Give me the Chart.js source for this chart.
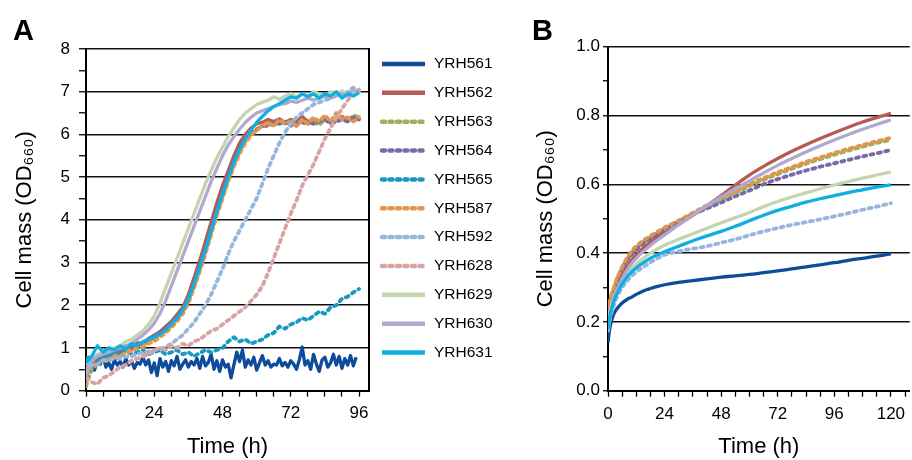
<!DOCTYPE html>
<html>
<head>
<meta charset="utf-8">
<script src="https://cdn.jsdelivr.net/npm/chart.js@4.4.1/dist/chart.umd.min.js"></script>
<style>
    body { margin: 0; background: #fff; }
    #wrap { position: relative; width: 912px; height: 460px; overflow: hidden; }
    canvas { position: absolute; top: 0; }
</style>
</head>
<body>
<div id="wrap">
    <canvas id="chartA" width="520" height="460" style="left:0"></canvas>
    <canvas id="chartB" width="392" height="460" style="left:520px"></canvas>
</div>
<script>
const FONT = "'Liberation Sans', Arial, Helvetica, sans-serif";
Chart.defaults.font.family = FONT;
Chart.defaults.color = '#000';

// strains and their styles
const strainsA = ['YRH561', 'YRH562', 'YRH563', 'YRH564', 'YRH565', 'YRH587', 'YRH592', 'YRH628', 'YRH629', 'YRH630', 'YRH631'];
const strainsB = ['YRH561', 'YRH562', 'YRH563', 'YRH564', 'YRH587', 'YRH592', 'YRH629', 'YRH630', 'YRH631'];
const strainColors = {
    YRH561: '#0e4c9a', YRH562: '#b65b53', YRH563: '#9ab15e', YRH564: '#7b68a6',
    YRH565: '#1799c4', YRH587: '#e3954c', YRH592: '#97b6de', YRH628: '#d8a4a3',
    YRH629: '#c3d4ae', YRH630: '#afa8cf', YRH631: '#10afe2'
};
const dashedStrains = ['YRH563', 'YRH564', 'YRH565', 'YRH587', 'YRH592', 'YRH628'];

// panel A: time (h) and OD660 (YRH561 read every hour, the rest every 2 h)
const time561A = [0, 1, 2, 3, 4, 5, 6, 7, 8, 9, 10, 11, 12, 13, 14, 15, 16, 17, 18, 19, 20, 21, 22, 23, 24,
    25, 26, 27, 28, 29, 30, 31, 32, 33, 34, 35, 36, 37, 38, 39, 40, 41, 42, 43, 44, 45, 46, 47, 48,
    49, 50, 51, 52, 53, 54, 55, 56, 57, 58, 59, 60, 61, 62, 63, 64, 65, 66, 67, 68, 69, 70, 71, 72,
    73, 74, 75, 76, 77, 78, 79, 80, 81, 82, 83, 84, 85, 86, 87, 88, 89, 90, 91, 92, 93, 94, 95];
const timeA = [0, 2, 4, 6, 8, 10, 12, 14, 16, 18, 20, 22, 24, 26, 28, 30, 32, 34, 36, 38, 40, 42, 44, 46, 48,
    50, 52, 54, 56, 58, 60, 62, 64, 66, 68, 70, 72, 74, 76, 78, 80, 82, 84, 86, 88, 90, 92, 94, 96];
const yrh561A = [0.55, 0.72, 0.6, 0.48, 0.7, 0.62, 0.8, 0.55, 0.65, 0.5, 0.72, 0.6, 0.68, 0.55, 0.75, 0.6, 0.7, 0.52,
    0.66, 0.62, 0.78, 0.6, 0.72, 0.42, 0.65, 0.35, 0.75, 0.55, 0.68, 0.45, 0.7, 0.58, 0.8, 0.5, 0.62, 0.72,
    0.55, 0.68, 0.6, 0.75, 0.52, 0.8, 0.58, 0.66, 0.85, 0.5, 0.7, 0.45, 0.72, 0.55, 0.62, 0.3, 0.6, 0.9,
    0.68, 0.95, 0.55, 0.72, 0.6, 0.78, 0.48, 0.65, 0.82, 0.6, 0.7, 0.55, 0.62, 0.6, 0.75, 0.58, 0.66, 0.55,
    0.7, 0.62, 0.5, 0.72, 1.02, 0.6, 0.7, 0.5, 0.85, 0.62, 0.45, 0.72, 0.78, 0.55, 0.65, 0.85, 0.6, 0.8,
    0.52, 0.75, 0.6, 0.82, 0.58, 0.78];
const yrh562A = [0.45, 0.75, 0.7, 0.9, 0.85, 1.0, 0.95, 1.05, 1.0, 1.12, 1.1, 1.22, 1.3, 1.38, 1.5, 1.62, 1.78, 1.95, 2.25, 2.65,
    3.05, 3.5, 3.95, 4.4, 4.8, 5.15, 5.5, 5.8, 6.0, 6.15, 6.25, 6.28, 6.35, 6.3, 6.36, 6.28, 6.35, 6.3, 6.42, 6.3,
    6.36, 6.28, 6.4, 6.3, 6.35, 6.42, 6.33, 6.4, 6.35];
const yrh563A = [0.1, 0.5, 0.62, 0.78, 0.75, 0.88, 0.85, 0.98, 0.95, 1.05, 1.08, 1.15, 1.25, 1.32, 1.42, 1.55, 1.7, 1.85, 2.1, 2.45,
    2.85, 3.25, 3.7, 4.15, 4.55, 4.95, 5.3, 5.6, 5.85, 6.0, 6.1, 6.2, 6.25, 6.2, 6.3, 6.25, 6.3, 6.2, 6.32, 6.25,
    6.3, 6.22, 6.35, 6.25, 6.3, 6.42, 6.3, 6.45, 6.4];
const yrh564A = [0.3, 0.6, 0.68, 0.8, 0.82, 0.92, 0.9, 1.0, 1.0, 1.08, 1.12, 1.2, 1.28, 1.36, 1.45, 1.58, 1.72, 1.88, 2.12, 2.48,
    2.9, 3.3, 3.75, 4.2, 4.6, 5.0, 5.35, 5.65, 5.88, 6.02, 6.12, 6.2, 6.2, 6.28, 6.25, 6.3, 6.2, 6.3, 6.25, 6.3,
    6.25, 6.3, 6.35, 6.25, 6.3, 6.35, 6.3, 6.4, 6.35];
const yrh565A = [0.75, 0.8, 0.7, 0.85, 0.8, 0.9, 0.85, 0.95, 0.85, 0.9, 0.95, 0.85, 0.9, 0.95, 0.85, 0.9, 0.95, 0.85, 0.9, 0.8,
    0.88, 0.95, 0.9, 0.95, 1.0, 1.15, 1.25, 1.15, 1.2, 1.1, 1.15, 1.2, 1.3, 1.35, 1.5, 1.45, 1.55, 1.6, 1.7, 1.65,
    1.75, 1.85, 1.8, 1.95, 2.0, 2.15, 2.2, 2.3, 2.38];
const yrh587A = [0.35, 0.6, 0.62, 0.72, 0.72, 0.82, 0.8, 0.9, 0.92, 1.0, 1.02, 1.1, 1.16, 1.25, 1.35, 1.48, 1.62, 1.8, 2.05, 2.4,
    2.8, 3.2, 3.65, 4.1, 4.5, 4.9, 5.25, 5.55, 5.8, 5.98, 6.1, 6.2, 6.28, 6.2, 6.35, 6.25, 6.3, 6.2, 6.35, 6.25,
    6.4, 6.3, 6.45, 6.3, 6.5, 6.35, 6.4, 6.3, 6.4];
const yrh592A = [0.4, 0.6, 0.62, 0.7, 0.7, 0.76, 0.75, 0.8, 0.8, 0.86, 0.88, 0.92, 0.95, 0.98, 1.02, 1.1, 1.2, 1.3, 1.45, 1.6,
    1.8, 2.0, 2.25, 2.55, 2.85, 3.2, 3.5, 3.75, 4.0, 4.25, 4.5, 4.85, 5.2, 5.5, 5.8, 6.05, 6.25, 6.4, 6.5, 6.6,
    6.7, 6.75, 6.8, 6.85, 6.95, 6.9, 7.0, 7.1, 7.0];
const yrh628A = [0.3, 0.2, 0.15, 0.3, 0.35, 0.45, 0.55, 0.6, 0.7, 0.75, 0.8, 0.85, 0.95, 1.0, 0.95, 1.05, 1.0, 1.1, 1.05, 1.15,
    1.2, 1.3, 1.4, 1.45, 1.55, 1.65, 1.75, 1.85, 1.95, 2.1, 2.25, 2.45, 2.75, 3.1, 3.45, 3.8, 4.15, 4.45, 4.8, 5.05,
    5.3, 5.6, 5.9, 6.15, 6.4, 6.6, 6.8, 6.95, 7.05];
const yrh629A = [0.6, 0.75, 0.85, 0.9, 0.95, 1.0, 1.05, 1.15, 1.2, 1.3, 1.4, 1.55, 1.75, 2.05, 2.4, 2.75, 3.1, 3.45, 3.8, 4.15,
    4.5, 4.85, 5.15, 5.45, 5.7, 5.95, 6.15, 6.35, 6.5, 6.6, 6.7, 6.75, 6.8, 6.88, 6.82, 6.9, 6.95, 6.88, 6.95, 6.9,
    7.0, 6.95, 6.9, 7.0, 6.95, 7.02, 6.9, 7.0, 6.95];
const yrh630A = [0.5, 0.7, 0.8, 0.85, 0.9, 0.95, 1.0, 1.05, 1.1, 1.2, 1.3, 1.42, 1.58, 1.8, 2.1, 2.45, 2.8, 3.15, 3.5, 3.85,
    4.2, 4.55, 4.9, 5.2, 5.5, 5.75, 5.95, 6.12, 6.28, 6.4, 6.5, 6.55, 6.6, 6.65, 6.7, 6.72, 6.78, 6.75, 6.8, 6.85,
    6.8, 6.85, 6.9, 6.85, 6.9, 6.95, 6.9, 7.05, 7.0];
const yrh631A = [0.65, 0.8, 1.05, 0.9, 1.0, 0.95, 1.05, 0.98, 1.1, 1.05, 1.15, 1.2, 1.25, 1.32, 1.42, 1.55, 1.7, 1.88, 2.15, 2.5,
    2.9, 3.3, 3.75, 4.2, 4.6, 5.0, 5.35, 5.65, 5.9, 6.1, 6.28, 6.42, 6.55, 6.65, 6.72, 6.8, 6.88, 6.85, 6.95, 6.88,
    6.95, 6.85, 6.95, 6.9, 7.0, 6.85, 6.95, 6.9, 6.98];
const valuesA = [yrh561A, yrh562A, yrh563A, yrh564A, yrh565A, yrh587A, yrh592A, yrh628A, yrh629A, yrh630A, yrh631A];
const timesA = [time561A, timeA, timeA, timeA, timeA, timeA, timeA, timeA, timeA, timeA, timeA];

// panel B: time (h) and OD660
const timeB = [0, 0.5, 1, 2, 3, 4, 6, 8, 10, 12, 15, 18, 21, 24, 30, 36, 42, 48, 54, 60, 66, 72, 78, 84, 90, 96, 102, 108, 114, 120];
const yrh561B = [0.14, 0.17, 0.19, 0.215, 0.23, 0.24, 0.255, 0.265, 0.272, 0.28, 0.29, 0.297, 0.303, 0.308, 0.315,
    0.32, 0.325, 0.33, 0.334, 0.338, 0.343, 0.348, 0.354, 0.36, 0.366, 0.372, 0.379, 0.385, 0.391, 0.398];
const yrh562B = [0.19, 0.215, 0.235, 0.265, 0.29, 0.31, 0.34, 0.362, 0.38, 0.395, 0.415, 0.432, 0.448, 0.462, 0.485,
    0.51, 0.538, 0.567, 0.598, 0.627, 0.652, 0.675, 0.696, 0.715, 0.733, 0.75, 0.766, 0.781, 0.794, 0.806];
const yrh563B = [0.2, 0.235, 0.26, 0.285, 0.305, 0.325, 0.355, 0.38, 0.4, 0.415, 0.432, 0.446, 0.458, 0.47, 0.49,
    0.512, 0.534, 0.555, 0.575, 0.595, 0.613, 0.63, 0.645, 0.66, 0.673, 0.686, 0.698, 0.709, 0.72, 0.729];
const yrh564B = [0.19, 0.22, 0.245, 0.28, 0.305, 0.325, 0.355, 0.378, 0.395, 0.41, 0.428, 0.443, 0.457, 0.47, 0.492,
    0.512, 0.53, 0.547, 0.565, 0.582, 0.6, 0.615, 0.628, 0.64, 0.651, 0.661, 0.671, 0.681, 0.69, 0.70];
const yrh587B = [0.21, 0.245, 0.27, 0.29, 0.31, 0.33, 0.36, 0.385, 0.405, 0.42, 0.437, 0.45, 0.462, 0.474, 0.495,
    0.517, 0.539, 0.56, 0.58, 0.6, 0.618, 0.635, 0.65, 0.665, 0.678, 0.691, 0.703, 0.714, 0.725, 0.735];
const yrh592B = [0.18, 0.2, 0.215, 0.24, 0.26, 0.275, 0.3, 0.318, 0.333, 0.345, 0.36, 0.373, 0.385, 0.395, 0.405,
    0.413, 0.42, 0.43, 0.44, 0.452, 0.463, 0.473, 0.482, 0.49, 0.498, 0.507, 0.516, 0.526, 0.535, 0.545];
const yrh629B = [0.19, 0.215, 0.235, 0.26, 0.28, 0.295, 0.32, 0.34, 0.355, 0.368, 0.385, 0.4, 0.412, 0.423, 0.44,
    0.456, 0.472, 0.488, 0.503, 0.518, 0.535, 0.55, 0.563, 0.575, 0.587, 0.598, 0.608, 0.618, 0.627, 0.636];
const yrh630B = [0.17, 0.195, 0.215, 0.25, 0.275, 0.295, 0.325, 0.35, 0.37, 0.385, 0.405, 0.422, 0.438, 0.453, 0.482,
    0.51, 0.537, 0.563, 0.587, 0.61, 0.633, 0.655, 0.675, 0.694, 0.712, 0.729, 0.745, 0.76, 0.774, 0.787];
const yrh631B = [0.18, 0.205, 0.225, 0.25, 0.27, 0.285, 0.31, 0.33, 0.345, 0.357, 0.372, 0.385, 0.395, 0.404, 0.42,
    0.436, 0.45, 0.463, 0.478, 0.494, 0.51, 0.524, 0.536, 0.548, 0.558, 0.567, 0.576, 0.584, 0.592, 0.598];
const valuesB = [yrh561B, yrh562B, yrh563B, yrh564B, yrh587B, yrh592B, yrh629B, yrh630B, yrh631B];
const timesB = valuesB.map(() => timeB);

// ticks
const xTicksA = [0, 6, 12, 18, 24, 30, 36, 42, 48, 54, 60, 66, 72, 78, 84, 90, 96];
const xLabelsA = [0, 24, 48, 72, 96];
const yTicksA = [0, 0.5, 1, 1.5, 2, 2.5, 3, 3.5, 4, 4.5, 5, 5.5, 6, 6.5, 7, 7.5, 8];
const yLabelsA = [0, 1, 2, 3, 4, 5, 6, 7, 8];
const xTicksB = [0, 6, 12, 18, 24, 30, 36, 42, 48, 54, 60, 66, 72, 78, 84, 90, 96, 102, 108, 114, 120, 126];
const xLabelsB = [0, 24, 48, 72, 96, 120];
const yTicksB = [0, 0.1, 0.2, 0.3, 0.4, 0.5, 0.6, 0.7, 0.8, 0.9, 1.0];
const yLabelsB = ['0.0', '', '0.2', '', '0.4', '', '0.6', '', '0.8', '', '1.0'];

// panel letter + line legend drawn on top of the chart
const panelExtras = {
    id: 'panelExtras',
    afterDraw(chart, args, opts) {
        const ctx = chart.ctx;
        ctx.save();
        ctx.fillStyle = '#000';
        ctx.font = 'bold 29px ' + FONT;
        ctx.textBaseline = 'alphabetic';
        ctx.textAlign = 'left';
        ctx.fillText(opts.letter, opts.letterX, opts.letterY);
        if (opts.legend) {
            const lg = opts.legend;
            ctx.font = lg.fontSize + 'px ' + FONT;
            ctx.textBaseline = 'middle';
            chart.data.datasets.forEach((ds, i) => {
                const y = lg.y + i * lg.step;
                ctx.beginPath();
                ctx.strokeStyle = ds.borderColor;
                ctx.lineWidth = lg.lineWidth;
                ctx.lineCap = ds.borderCapStyle;
                ctx.setLineDash(ds.borderDash);
                ctx.moveTo(lg.x + 2, y);
                ctx.lineTo(lg.x + lg.len - 2, y);
                ctx.stroke();
                ctx.setLineDash([]);
                ctx.fillText(ds.label, lg.x + lg.len + 7, y);
            });
        }
        ctx.restore();
    }
};

function makeDatasets(names, times, values, lineWidth, smooth) {
    return names.map((name, i) => {
        const dashed = dashedStrains.includes(name);
        return {
            label: name,
            data: times[i].map((t, j) => ({ x: t, y: values[i][j] })),
            borderColor: strainColors[name],
            borderWidth: dashed ? lineWidth + 0.5 : lineWidth,
            borderDash: dashed ? [3, 4.5] : [],
            borderCapStyle: dashed ? 'round' : 'butt',
            borderJoinStyle: 'round',
            pointRadius: 0,
            cubicInterpolationMode: smooth ? 'monotone' : 'default',
            tension: 0,
            order: -i
        };
    });
}

function axisTitle(text, padding) {
    return { display: true, text: text, font: { size: 22 }, padding: padding };
}

function createPanelA() {
    const ctx = document.getElementById('chartA').getContext('2d');
    new Chart(ctx, {
        type: 'line',
        data: { datasets: makeDatasets(strainsA, timesA, valuesA, 3.3, false) },
        options: {
            responsive: false,
            animation: false,
            layout: { padding: { top: 49, right: 151, bottom: 0, left: 0 } },
            plugins: {
                legend: { display: false },
                tooltip: { enabled: false },
                panelExtras: {
                    letter: 'A', letterX: 13, letterY: 40,
                    legend: { x: 380, len: 47, y: 64, step: 28.85, fontSize: 15.5, lineWidth: 4.5 }
                }
            },
            scales: {
                x: {
                    type: 'linear', min: 0, max: 99.5,
                    afterBuildTicks: s => { s.ticks = xTicksA.map(v => ({ value: v })); },
                    afterFit: s => { s.height = 69.4; },
                    ticks: {
                        autoSkip: false, maxRotation: 0, padding: 7, font: { size: 17 },
                        callback: v => xLabelsA.includes(v) ? String(v) : ''
                    },
                    grid: { drawOnChartArea: false, tickLength: 6, tickColor: '#000', tickWidth: 1.3 },
                    border: { color: '#000', width: 2 },
                    title: axisTitle('Time (h)', { top: 0, bottom: 0 })
                },
                y: {
                    min: 0, max: 8,
                    afterBuildTicks: s => { s.ticks = yTicksA.map(v => ({ value: v })); },
                    afterFit: s => { s.width = 86; },
                    ticks: {
                        autoSkip: false, padding: 9, font: { size: 17 },
                        callback: v => yLabelsA.includes(v) ? String(v) : ''
                    },
                    grid: {
                        color: c => (c.tick && yLabelsA.includes(c.tick.value) && c.tick.value > 0) ? '#111' : 'rgba(0,0,0,0)',
                        lineWidth: 1.5, tickLength: 7, tickColor: '#000', tickWidth: 1.3
                    },
                    border: { color: '#000', width: 2 },
                    title: axisTitle('Cell mass (OD₆₆₀)', { top: 12, bottom: 0 })
                },
                yRight: {
                    position: 'right', min: 0, max: 8,
                    afterFit: s => { s.width = 0; },
                    ticks: { display: false },
                    grid: { drawOnChartArea: false, drawTicks: false },
                    border: { color: '#000', width: 2 }
                }
            }
        },
        plugins: [panelExtras]
    });
}

function createPanelB() {
    const ctx = document.getElementById('chartB').getContext('2d');
    new Chart(ctx, {
        type: 'line',
        data: { datasets: makeDatasets(strainsB, timesB, valuesB, 3.3, true) },
        options: {
            responsive: false,
            animation: false,
            layout: { padding: { top: 46.7, right: 0, bottom: 0, left: 0 } },
            plugins: {
                legend: { display: false },
                tooltip: { enabled: false },
                panelExtras: { letter: 'B', letterX: 12, letterY: 40 }
            },
            scales: {
                x: {
                    type: 'linear', min: 0, max: 128,
                    afterBuildTicks: s => { s.ticks = xTicksB.map(v => ({ value: v })); },
                    afterFit: s => { s.height = 69.3; },
                    ticks: {
                        autoSkip: false, maxRotation: 0, padding: 7, font: { size: 17 },
                        callback: v => xLabelsB.includes(v) ? String(v) : ''
                    },
                    grid: { drawOnChartArea: false, tickLength: 6, tickColor: '#000', tickWidth: 1.3 },
                    border: { color: '#000', width: 2 },
                    title: axisTitle('Time (h)', { top: 0, bottom: 0 })
                },
                y: {
                    min: 0, max: 1,
                    afterBuildTicks: s => { s.ticks = yTicksB.map(v => ({ value: v })); },
                    afterFit: s => { s.width = 88; },
                    ticks: {
                        autoSkip: false, padding: 3, font: { size: 17 },
                        callback: (v, i) => yLabelsB[i]
                    },
                    grid: {
                        color: c => (c.index > 0 && yLabelsB[c.index] !== '') ? '#111' : 'rgba(0,0,0,0)',
                        lineWidth: 1.5, tickLength: 5, tickColor: '#000', tickWidth: 1.3
                    },
                    border: { color: '#000', width: 2 },
                    title: axisTitle('Cell mass (OD₆₆₀)', { top: 13, bottom: 0 })
                }
            }
        },
        plugins: [panelExtras]
    });
}

createPanelA();
createPanelB();
</script>
</body>
</html>
